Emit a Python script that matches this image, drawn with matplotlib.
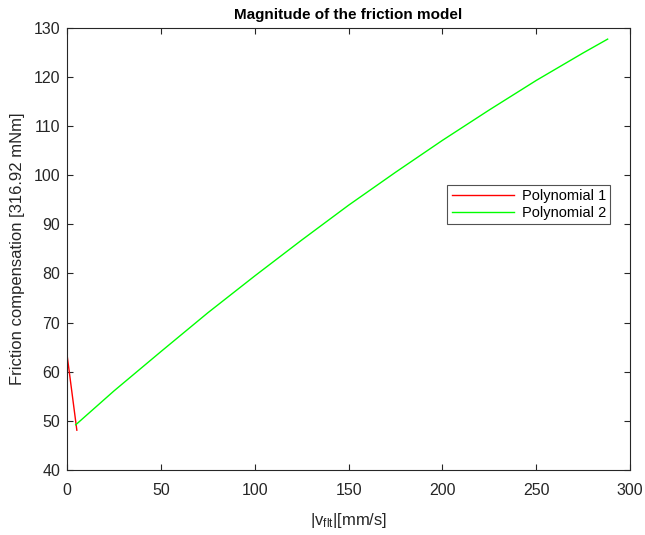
import matplotlib
matplotlib.use("Agg")
import matplotlib.pyplot as plt

plt.rcParams['font.family'] = ['Liberation Sans', 'DejaVu Sans']
plt.rcParams['mathtext.fontset'] = 'custom'
plt.rcParams['mathtext.rm'] = 'Liberation Sans'

poly1_x = [0.0, 5.2]
poly1_y = [63.4, 48.1]

poly2_x = [4.6, 25, 50, 75, 100, 125, 150, 175, 200, 225, 250, 275, 288]
poly2_y = [49.2, 56.1, 64.1, 72.0, 79.5, 86.8, 93.9, 100.6, 107.1, 113.3, 119.3, 124.9, 127.7]

xticks = [0, 50, 100, 150, 200, 250, 300]
yticks = [40, 50, 60, 70, 80, 90, 100, 110, 120, 130]

fig = plt.figure(figsize=(6.45, 5.35), dpi=100)
ax = fig.add_axes([0.104, 0.1215, 0.873, 0.8265])

ax.plot(poly1_x, poly1_y, color=(1, 0, 0), lw=1.0, label='Polynomial 1')
ax.plot(poly2_x, poly2_y, color=(0, 1, 0), lw=1.0, label='Polynomial 2')

ax.set_xlim(0, 300)
ax.set_ylim(40, 130)
ax.set_xticks(xticks)
ax.set_yticks(yticks)
axc = (0.15, 0.15, 0.15)
for s in ax.spines.values():
    s.set_color(axc)
    s.set_linewidth(0.8)
ax.tick_params(direction='in', top=True, right=True, length=4, width=0.8,
               colors=axc, labelsize=11.5, labelcolor=axc)
ax.tick_params(axis='x', pad=9.5)
ax.tick_params(axis='y', pad=5)

ax.set_title('Magnitude of the friction model', fontsize=11, fontweight='bold', pad=6)
ax.set_xlabel(r'$\mathregular{|v_{flt}|}$[mm/s]', fontsize=12, color=axc, labelpad=9)
ax.set_ylabel('Friction compensation [316.92 mNm]', fontsize=12, color=axc, labelpad=6)

leg = ax.legend(loc='upper left', bbox_to_anchor=(0.675, 0.645), fontsize=10.5,
                frameon=True, fancybox=False, borderpad=0.3, handlelength=4.3,
                handletextpad=0.5, labelspacing=0.2, borderaxespad=0)
leg.get_frame().set_edgecolor(axc)
leg.get_frame().set_linewidth(0.8)

fig.savefig('out.png', dpi=100)
